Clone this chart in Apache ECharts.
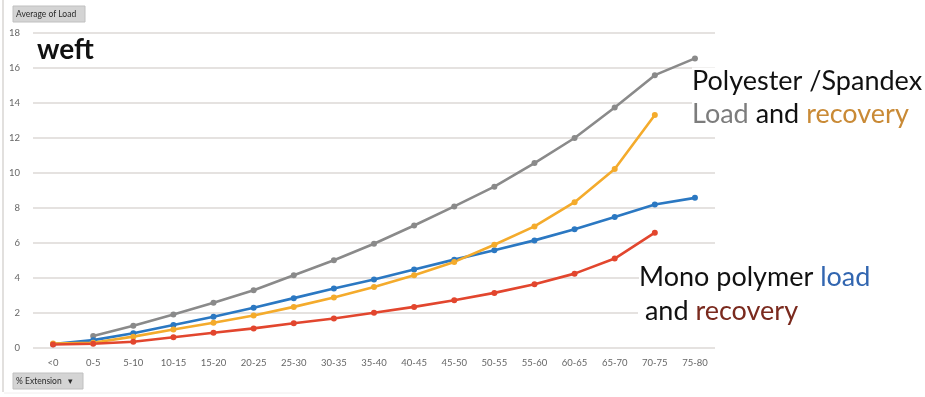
<!DOCTYPE html>
<html>
<head>
<meta charset="utf-8">
<script src="https://cdn.jsdelivr.net/npm/echarts@6/dist/echarts.min.js"></script>
<style>
  html, body { margin: 0; padding: 0; background: #fff; }
  #chart { width: 925px; height: 397px; }
</style>
</head>
<body>
<div id="chart"></div>
<script>
// Extension bands (x axis)
const categories = ['<0', '0-5', '5-10', '10-15', '15-20', '20-25', '25-30', '30-35', '35-40',
  '40-45', '45-50', '50-55', '55-60', '60-65', '65-70', '70-75', '75-80'];

// Average load per band for each curve (null = no reading)
const polyLoad = [null, 0.68, 1.27, 1.92, 2.58, 3.30, 4.16, 5.01, 5.96, 7.00, 8.09, 9.22, 10.57, 12.00, 13.74, 15.59, 16.55];
const monoLoad = [0.22, 0.45, 0.84, 1.31, 1.78, 2.30, 2.85, 3.40, 3.91, 4.48, 5.05, 5.58, 6.15, 6.78, 7.48, 8.20, 8.58];
const polyRecovery = [0.26, 0.30, 0.65, 1.06, 1.44, 1.86, 2.35, 2.89, 3.49, 4.16, 4.92, 5.90, 6.95, 8.33, 10.23, 13.31, null];
const monoRecovery = [0.20, 0.24, 0.36, 0.61, 0.87, 1.12, 1.41, 1.69, 2.01, 2.35, 2.73, 3.15, 3.64, 4.25, 5.11, 6.59, null];

// Y axis ticks
const yMin = 0, yMax = 18, yStep = 2;

const chart = echarts.init(document.getElementById('chart'), null, { renderer: 'canvas' });

function line(name, data, color) {
  return {
    name: name,
    type: 'line',
    data: data,
    symbol: 'circle',
    symbolSize: 6,
    connectNulls: false,
    lineStyle: { color: color, width: 2.6 },
    itemStyle: { color: color },
    z: 3
  };
}

const font = 'Lato, "Open Sans", sans-serif';
const big = 27;

// a block of annotation text with a white backing box
function note(x, y, rich, text) {
  return {
    type: 'text', z: 10,
    style: {
      x: x, y: y, verticalAlign: 'middle', align: 'left',
      text: text, rich: rich,
      backgroundColor: '#ffffff', padding: [0, 2, 0, 0]
    }
  };
}
const st = (fill) => ({ fill: fill, fontSize: big, fontFamily: font });

chart.setOption({
  animation: false,
  backgroundColor: '#ffffff',
  grid: { left: 33, right: 210, top: 33, bottom: 49, containLabel: false },
  xAxis: {
    type: 'category',
    data: categories,
    boundaryGap: true,
    axisLine: { show: false },
    axisTick: { show: false },
    axisLabel: { color: '#666', fontSize: 9.5, margin: 10, fontFamily: font, interval: 0 }
  },
  yAxis: {
    type: 'value',
    min: yMin, max: yMax, interval: yStep,
    axisLine: { show: false },
    axisTick: { show: false },
    axisLabel: { color: '#666', fontSize: 9.5, margin: 13, fontFamily: font },
    splitLine: { lineStyle: { color: '#dcd8d6', width: 1.6 } }
  },
  series: [
    line('Polyester/Spandex load', polyLoad, '#8a8a8a'),
    line('Mono polymer load', monoLoad, '#2b78c2'),
    line('Polyester/Spandex recovery', polyRecovery, '#f4ab2c'),
    line('Mono polymer recovery', monoRecovery, '#e2462e')
  ],
  graphic: [
    // frame edge on the left
    { type: 'line', shape: { x1: 3, y1: 0, x2: 3, y2: 392 }, style: { stroke: '#e2e0de', lineWidth: 2 } },
    { type: 'line', shape: { x1: 4, y1: 393, x2: 300, y2: 393 }, style: { stroke: '#f0eeee', lineWidth: 1 } },
    // field buttons
    { type: 'rect', shape: { x: 13, y: 6, width: 72, height: 16 }, style: { fill: '#d4d4d4', stroke: '#c0c0c0', lineWidth: 1 } },
    { type: 'text', style: { x: 16, y: 14.5, verticalAlign: 'middle', text: 'Average of Load', fill: '#2a2a2a', font: '8.5px ' + font } },
    { type: 'rect', shape: { x: 13, y: 373, width: 70, height: 16 }, style: { fill: '#d4d4d4', stroke: '#c0c0c0', lineWidth: 1 } },
    { type: 'text', style: { x: 16, y: 381.5, verticalAlign: 'middle', text: '% Extension   \u25BE', fill: '#2a2a2a', font: '8.5px ' + font } },
    // annotations
    { type: 'text', z: 10, style: { x: 37, y: 50, verticalAlign: 'middle', text: 'weft', fill: '#111', font: 'bold 28px ' + font } },
    note(692, 81, { b: st('#111') }, '{b|Polyester /Spandex}'),
    note(692, 114, { g: st('#7c7c7c'), b: st('#111'), o: st('#c98a36') }, '{g|Load }{b|and }{o|recovery}'),
    note(639, 277, { b: st('#111'), u: st('#3266b0') }, '{b|Mono polymer }{u|load}'),
    note(638, 311, { b: st('#111'), r: st('#7a2a1e') }, '{b| and }{r|recovery}')
  ]
});
</script>
</body>
</html>
